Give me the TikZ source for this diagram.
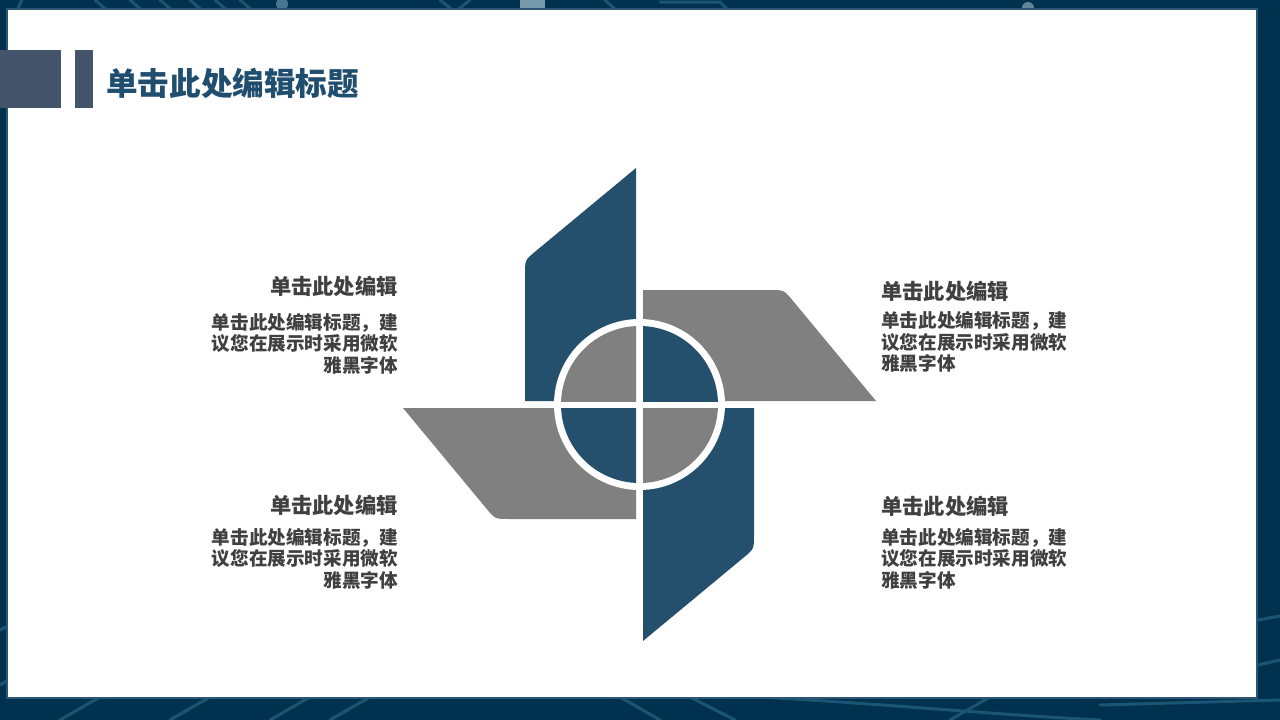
\documentclass[tikz,border=0pt]{standalone}
\usepackage{fontspec}
\newfontfamily\cjk{Noto Sans CJK SC}
\definecolor{framebg}{HTML}{00324F}
\definecolor{framedeco}{HTML}{1B5574}
\definecolor{panelborder}{HTML}{2B5774}
\definecolor{headbar}{HTML}{44546A}
\definecolor{titleblue}{HTML}{1F4E6E}
\definecolor{bladeblue}{HTML}{25506D}
\definecolor{bladegrey}{HTML}{808080}
\definecolor{txt}{HTML}{404040}
\tikzset{
  deco/.style={draw=framedeco, line width=3pt, line cap=round},
  headtxt/.style={inner sep=0pt, text=txt, font={\cjk\bfseries\fontsize{21.3}{24}\selectfont}},
  bodytxt/.style={inner sep=0pt, text=txt, font={\cjk\bfseries\fontsize{18.6}{21.6}\selectfont}},
}
\begin{document}
\begin{tikzpicture}[x=1pt,y=-1pt]
\useasboundingbox (0,0) rectangle (1280,720);
% frame background
\fill[framebg] (0,0) rectangle (1280,720);
% faint circuit decorations in the frame
\draw[deco] (10,25) -- (22,0);
\foreach \xx in {95,130,160,190,215,240} {\draw[deco] (\xx,0) -- (\xx+14,12);}
\fill[framedeco!80!white] (282,4) circle (6);
\draw[deco] (440,0) -- (455,12) -- (470,0);
\fill[framedeco!60!white] (520,0) rectangle (545,10);
\draw[deco] (605,0) -- (618,12);
\draw[deco] (660,2) -- (720,2) -- (728,10) -- (1028,10);
\fill[framedeco!70!white] (1028,8) circle (6);
\foreach \xx in {60,170,270,330} {\draw[deco] (\xx,720) -- (\xx+40,697);}
\draw[deco] (620,697) -- (660,720);
\draw[deco] (690,697) -- (735,720);
\draw[deco] (760,697) .. controls (900,705) and (1000,715) .. (1100,720);
\draw[deco] (950,720) -- (990,697);
\draw[deco] (1100,705) -- (1280,700);
\draw[deco] (1258,620) -- (1280,616);
\draw[deco] (1258,665) -- (1280,660);
\draw[deco] (0,630) -- (8,626);
\draw[deco] (0,685) -- (8,680);
% white panel
\fill[panelborder] (6,8) rectangle (1258,699);
\fill[white] (8,10) rectangle (1256,697);
% header bars
\fill[headbar] (0,50) rectangle (61,108);
\fill[headbar] (75,50) rectangle (93,108);
\node[anchor=west, inner sep=0pt, text=titleblue, font={\cjk\bfseries\fontsize{31.6}{34}\selectfont}] (title) at (106,83) {单击此处编辑标题};
% pinwheel
\coordinate (C) at (639.5,404.5);
\foreach \ang/\col in {0/bladeblue,90/bladegrey,180/bladeblue,270/bladegrey} {
  \begin{scope}[shift={(C)}, rotate=\ang]
    \fill[\col] (-3.5,-236.5) -- (-3.5,-3.5) -- (-114.5,-3.5) -- (-114.5,-130.5)
      .. controls (-114.5,-144.5) .. (-103.7,-153.4) -- cycle;
  \end{scope}
}
\fill[white] (C) circle (85.5);
\begin{scope}
  \clip ([shift={(-100,-100)}]C) rectangle ([shift={(-3.5,-3.5)}]C);
  \fill[bladegrey] (C) circle (78.5);
\end{scope}
\begin{scope}
  \clip ([shift={(3.5,-100)}]C) rectangle ([shift={(100,-3.5)}]C);
  \fill[bladeblue] (C) circle (78.5);
\end{scope}
\begin{scope}
  \clip ([shift={(-100,3.5)}]C) rectangle ([shift={(-3.5,100)}]C);
  \fill[bladeblue] (C) circle (78.5);
\end{scope}
\begin{scope}
  \clip ([shift={(3.5,3.5)}]C) rectangle ([shift={(100,100)}]C);
  \fill[bladegrey] (C) circle (78.5);
\end{scope}
% text blocks
\node[headtxt, anchor=east] (h1) at (398,286) {单击此处编辑};
\node[bodytxt, anchor=east, align=right] (b1) at (398,343.5) {单击此处编辑标题，建\\议您在展示时采用微软\\雅黑字体};
\node[headtxt, anchor=west] (h2) at (881,291) {单击此处编辑};
\node[bodytxt, anchor=west, align=left] (b2) at (881,342) {单击此处编辑标题，建\\议您在展示时采用微软\\雅黑字体};
\node[headtxt, anchor=east] (h3) at (398,505) {单击此处编辑};
\node[bodytxt, anchor=east, align=right] (b3) at (398,558.5) {单击此处编辑标题，建\\议您在展示时采用微软\\雅黑字体};
\node[headtxt, anchor=west] (h4) at (881,506) {单击此处编辑};
\node[bodytxt, anchor=west, align=left] (b4) at (881,558.5) {单击此处编辑标题，建\\议您在展示时采用微软\\雅黑字体};
\end{tikzpicture}
\end{document}
